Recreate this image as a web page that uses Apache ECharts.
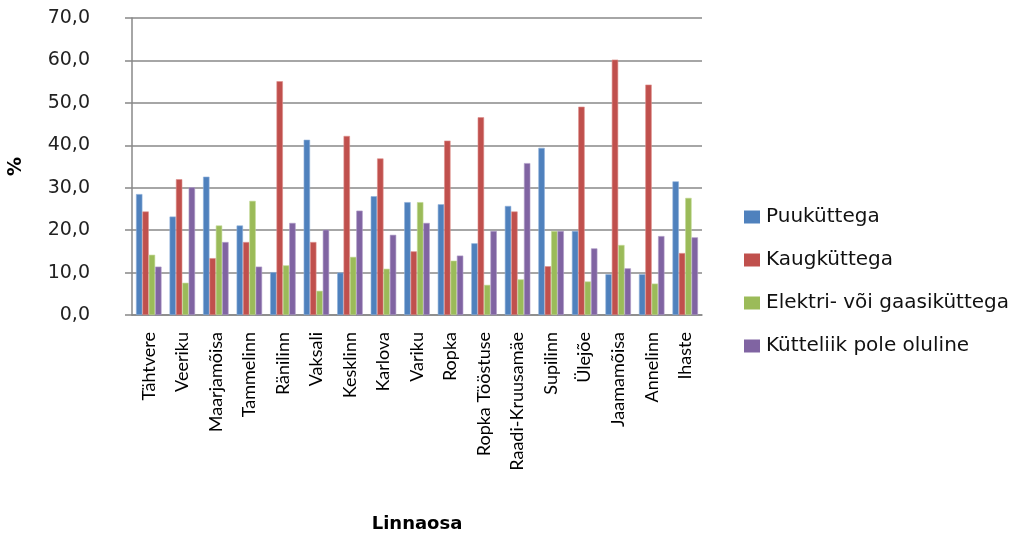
<!DOCTYPE html>
<html>
<head>
<meta charset="utf-8">
<script src="https://cdn.jsdelivr.net/npm/echarts@6/dist/echarts.min.js"></script>
<style>
  html, body { margin: 0; padding: 0; background: #fff; }
  #chart { width: 1020px; height: 537px; }
</style>
</head>
<body>
<div id="chart"></div>
<script>
// Tartu linnaosad ja küttelahenduste eelistused (%)
const categories = ['Tähtvere', 'Veeriku', 'Maarjamõisa', 'Tammelinn', 'Ränilinn', 'Vaksali', 'Kesklinn', 'Karlova', 'Variku', 'Ropka', 'Ropka Tööstuse', 'Raadi-Kruusamäe', 'Supilinn', 'Ülejõe', 'Jaamamõisa', 'Annelinn', 'Ihaste'];
const seriesNames = ['Puuküttega', 'Kaugküttega', 'Elektri- või gaasiküttega', 'Kütteliik pole oluline'];
const puu     = [28.5, 23.2, 32.6, 21.1, 10.1, 41.3, 10.0, 28.0, 26.6, 26.1, 16.9, 25.7, 39.4, 19.8, 9.6, 9.6, 31.5];
const kaug    = [24.4, 32.0, 13.4, 17.2, 55.1, 17.2, 42.2, 36.9, 15.0, 41.1, 46.6, 24.4, 11.5, 49.1, 60.2, 54.3, 14.6];
const elekter = [14.2, 7.6, 21.1, 26.9, 11.7, 5.7, 13.7, 10.9, 26.6, 12.8, 7.1, 8.4, 19.8, 7.9, 16.5, 7.4, 27.6];
const muu     = [11.4, 30.1, 17.2, 11.4, 21.7, 20.1, 24.6, 18.9, 21.7, 14.0, 19.8, 35.8, 19.8, 15.7, 11.0, 18.6, 18.3];
const yTicks = { min: 0, max: 70, interval: 10 };

const colors = ['#4F81BD', '#C0504D', '#9BBB59', '#8064A2'];
const borders = ['#8FB0DA', '#DE8E8C', '#C3DA96', '#AE9CC8'];
const narrow = 'Lato, "Open Sans", sans-serif';
const wide = '"DejaVu Sans", "Open Sans", sans-serif';

const chart = echarts.init(document.getElementById('chart'), null, { renderer: 'canvas' });
const values = [puu, kaug, elekter, muu];

chart.setOption({
  animation: false,
  color: colors,
  grid: { left: 132, top: 18, width: 570, height: 297, containLabel: false, outerBoundsMode: 'none' },
  legend: {
    orient: 'vertical',
    left: 744,
    top: 207,
    padding: 0,
    itemWidth: 16,
    itemHeight: 13,
    itemGap: 23,
    icon: 'rect',
    itemStyle: { borderWidth: 0 },
    textStyle: { fontFamily: wide, fontSize: 20, color: '#111', padding: [0, 0, 0, 1] },
    data: seriesNames
  },
  xAxis: {
    type: 'category',
    data: categories,
    name: 'Linnaosa',
    nameLocation: 'middle',
    nameGap: 200,
    nameTextStyle: { fontFamily: wide, fontSize: 18, fontWeight: 'bold', color: '#000' },
    axisLine: { lineStyle: { color: '#888', width: 1.5 } },
    axisTick: { show: false },
    axisLabel: {
      rotate: 90, interval: 0, margin: 17,
      fontFamily: narrow, fontSize: 18, color: '#000'
    }
  },
  yAxis: {
    type: 'value',
    min: yTicks.min, max: yTicks.max, interval: yTicks.interval,
    name: '%',
    nameLocation: 'middle',
    nameGap: 106,
    nameRotate: 90,
    nameTextStyle: { fontFamily: wide, fontSize: 19, fontWeight: 'bold', color: '#000' },
    axisLine: { show: true, lineStyle: { color: '#888', width: 1.5 } },
    axisTick: { show: true, length: 7, lineStyle: { color: '#888', width: 1.5 } },
    splitLine: { lineStyle: { color: '#888', width: 1.5 } },
    axisLabel: {
      margin: 42,
      fontFamily: wide, fontSize: 19, color: '#222',
      formatter: v => v.toFixed(1).replace('.', ',')
    }
  },
  series: seriesNames.map((name, i) => ({
    name,
    type: 'bar',
    data: values[i],
    barGap: '0%',
    barCategoryGap: '24%',
    itemStyle: { color: colors[i], borderColor: borders[i], borderWidth: 0.6 }
  }))
});
</script>
</body>
</html>
